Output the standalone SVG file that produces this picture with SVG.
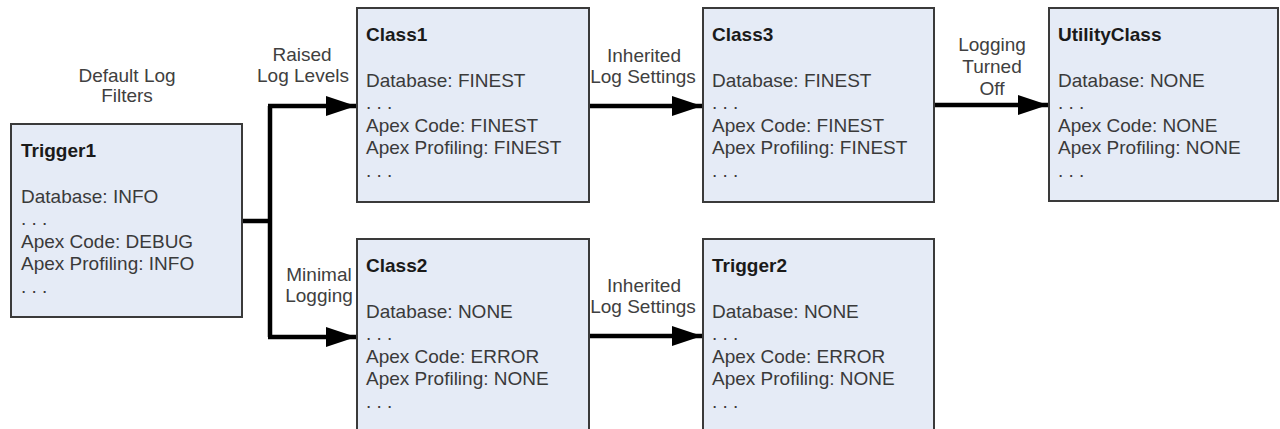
<svg xmlns="http://www.w3.org/2000/svg" width="1280" height="429" viewBox="0 0 1280 429">
<defs>
<style>
.box{fill:#e5ebf6;stroke:#3a3a3a;stroke-width:2}
.t{font-family:"Liberation Sans",Arial,sans-serif;font-size:19px;fill:#3a3a3a}
.h{font-family:"Liberation Sans",Arial,sans-serif;font-size:19px;font-weight:bold;fill:#1a1a1a}
.lbl{font-family:"Liberation Sans",Arial,sans-serif;font-size:19px;fill:#404040;text-anchor:middle}
.c{fill:none;stroke:#000;stroke-width:4.5}
</style>
<marker id="arr" markerUnits="userSpaceOnUse" markerWidth="30" markerHeight="20" refX="30" refY="10" orient="auto">
<path d="M0,0 L30,10 L0,20 Z" fill="#000"/>
</marker>
</defs>
<rect width="1280" height="429" fill="#fff"/>
<g id="connectors">
<path class="c" d="M242,221 H270"/>
<path class="c" d="M270,106 V337"/>
<path class="c" d="M268,106 H356" marker-end="url(#arr)"/>
<path class="c" d="M268,337 H356" marker-end="url(#arr)"/>
<path class="c" d="M589,106 H702" marker-end="url(#arr)"/>
<path class="c" d="M589,336 H702" marker-end="url(#arr)"/>
<path class="c" d="M934,105 H1048" marker-end="url(#arr)"/>
</g>
<g id="labels">
<text class="lbl" x="127" y="82">Default Log</text>
<text class="lbl" x="127" y="102">Filters</text>
<text class="lbl" x="302" y="61">Raised</text>
<text class="lbl" x="303" y="82">Log Levels</text>
<text class="lbl" x="319" y="281">Minimal</text>
<text class="lbl" x="319" y="302">Logging</text>
<text class="lbl" x="644" y="62">Inherited</text>
<text class="lbl" x="643" y="83">Log Settings</text>
<text class="lbl" x="644" y="292">Inherited</text>
<text class="lbl" x="643" y="313">Log Settings</text>
<text class="lbl" x="992" y="51">Logging</text>
<text class="lbl" x="992" y="73">Turned</text>
<text class="lbl" x="992" y="95">Off</text>
</g>
<g id="trigger1">
<rect class="box" x="11" y="124" width="231" height="193"/>
<text class="h" x="21" y="157">Trigger1</text>
<text class="t" x="21" y="203">Database: INFO</text>
<text class="t" x="21" y="225">. . .</text>
<text class="t" x="21" y="248">Apex Code: DEBUG</text>
<text class="t" x="21" y="270">Apex Profiling: INFO</text>
<text class="t" x="21" y="293">. . .</text>
</g>
<g id="class1">
<rect class="box" x="357" y="8" width="232" height="194"/>
<text class="h" x="366" y="41">Class1</text>
<text class="t" x="366" y="87">Database: FINEST</text>
<text class="t" x="366" y="109">. . .</text>
<text class="t" x="366" y="132">Apex Code: FINEST</text>
<text class="t" x="366" y="154">Apex Profiling: FINEST</text>
<text class="t" x="366" y="177">. . .</text>
</g>
<g id="class3">
<rect class="box" x="703" y="8" width="231" height="194"/>
<text class="h" x="712" y="41">Class3</text>
<text class="t" x="712" y="87">Database: FINEST</text>
<text class="t" x="712" y="109">. . .</text>
<text class="t" x="712" y="132">Apex Code: FINEST</text>
<text class="t" x="712" y="154">Apex Profiling: FINEST</text>
<text class="t" x="712" y="177">. . .</text>
</g>
<g id="utilityclass">
<rect class="box" x="1049" y="8" width="229" height="193"/>
<text class="h" x="1058" y="41">UtilityClass</text>
<text class="t" x="1058" y="87">Database: NONE</text>
<text class="t" x="1058" y="109">. . .</text>
<text class="t" x="1058" y="132">Apex Code: NONE</text>
<text class="t" x="1058" y="154">Apex Profiling: NONE</text>
<text class="t" x="1058" y="177">. . .</text>
</g>
<g id="class2">
<rect class="box" x="357" y="239" width="232" height="200"/>
<text class="h" x="366" y="272">Class2</text>
<text class="t" x="366" y="318">Database: NONE</text>
<text class="t" x="366" y="340">. . .</text>
<text class="t" x="366" y="363">Apex Code: ERROR</text>
<text class="t" x="366" y="385">Apex Profiling: NONE</text>
<text class="t" x="366" y="408">. . .</text>
</g>
<g id="trigger2">
<rect class="box" x="703" y="239" width="231" height="200"/>
<text class="h" x="712" y="272">Trigger2</text>
<text class="t" x="712" y="318">Database: NONE</text>
<text class="t" x="712" y="340">. . .</text>
<text class="t" x="712" y="363">Apex Code: ERROR</text>
<text class="t" x="712" y="385">Apex Profiling: NONE</text>
<text class="t" x="712" y="408">. . .</text>
</g>
</svg>
